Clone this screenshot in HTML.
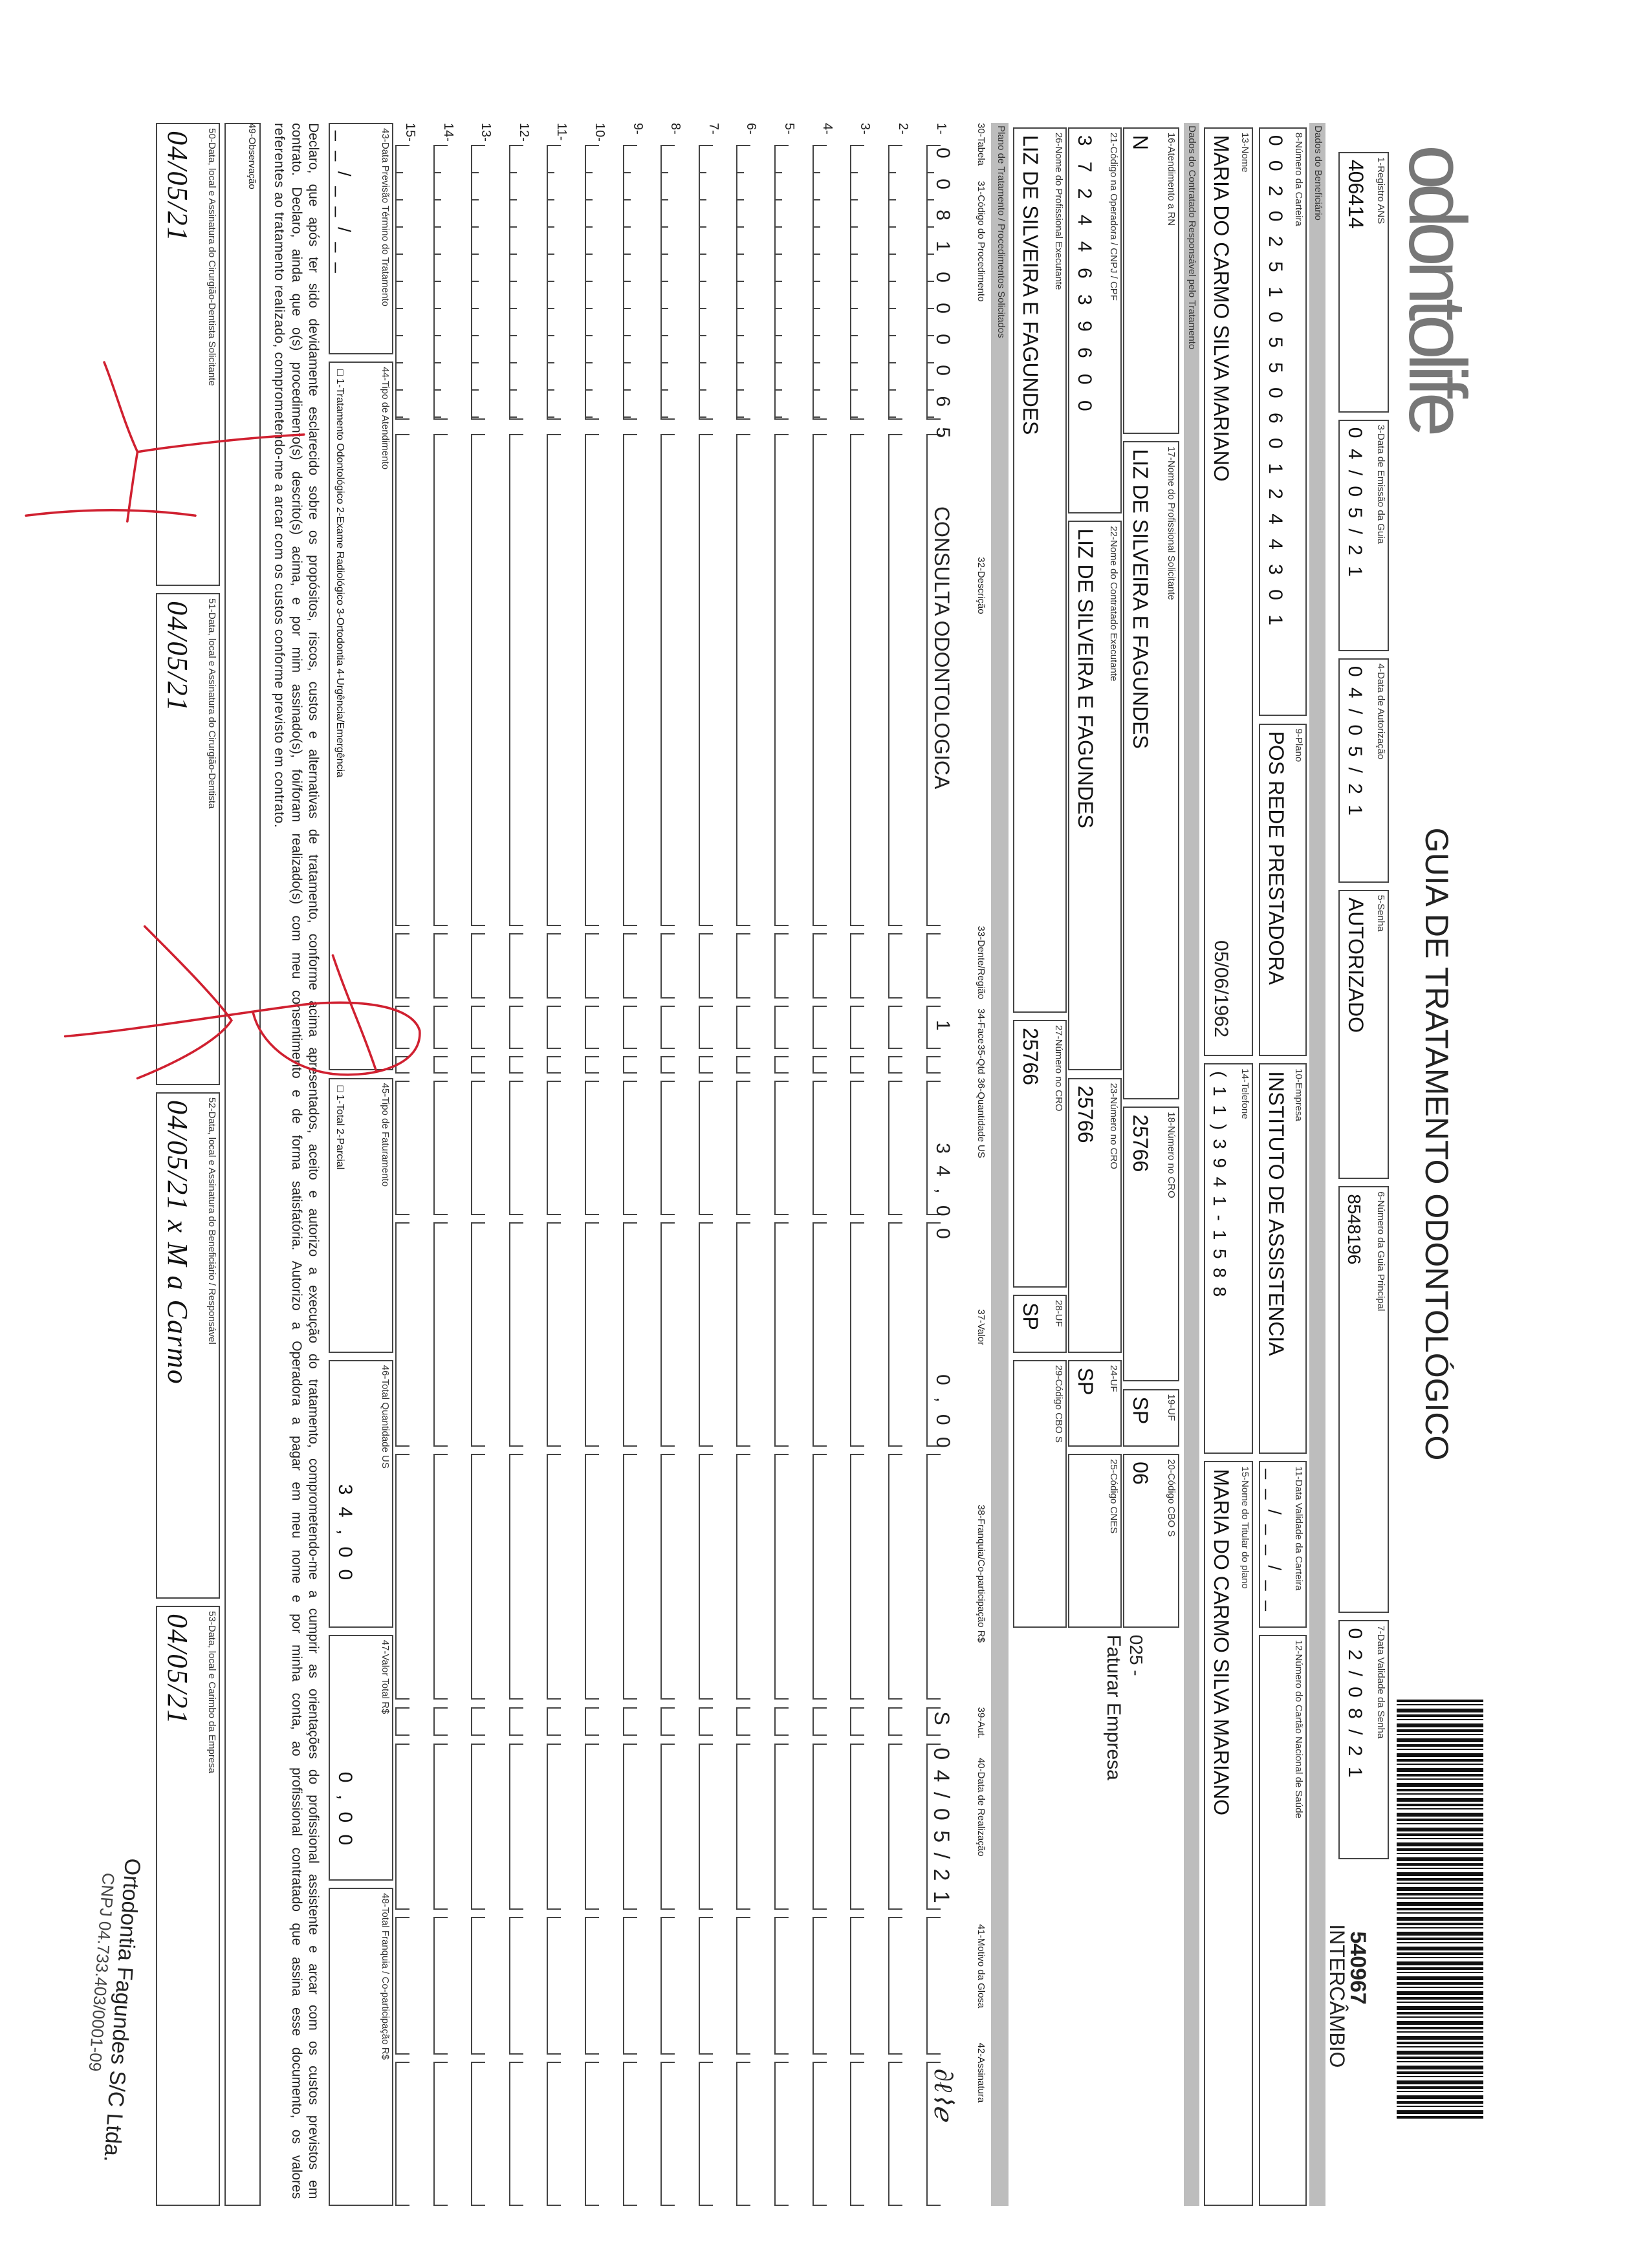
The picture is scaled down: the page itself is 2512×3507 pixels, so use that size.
<!DOCTYPE html>
<html><head><meta charset="utf-8">
<style>
html,body{margin:0;padding:0;background:#fff;}
body{width:2512px;height:3507px;position:relative;overflow:hidden;font-family:"Liberation Sans",sans-serif;color:#222;}
#f{position:absolute;left:2512px;top:0;width:3507px;height:2512px;transform-origin:0 0;transform:rotate(90deg);}
.b{position:absolute;border:2px solid #444;box-sizing:border-box;background:#fff;}
.l{position:absolute;left:6px;top:2px;font-size:15px;white-space:nowrap;color:#333;}
.v{position:absolute;left:10px;bottom:6px;font-size:32px;white-space:nowrap;color:#111;}
.bar{position:absolute;background:#bdbdbd;font-size:15px;white-space:nowrap;color:#333;padding-left:4px;box-sizing:border-box;line-height:24px;}
.t{position:absolute;white-space:nowrap;}
.s{position:absolute;border:2px solid #444;border-top:none;box-sizing:border-box;}
.code{background-image:repeating-linear-gradient(to right,transparent 0 40px,#444 40px 42px);background-size:100% 10px;background-position:0 100%;background-repeat:no-repeat;}
</style></head><body>
<div id="f"></div>
<svg style="position:absolute;left:0;top:0" width="2512" height="3507" viewBox="0 0 1123 1567">
<g fill="none" stroke="#d02030" stroke-width="1.6" stroke-linecap="round">
<path d="M18,356 C50,352 90,350 135,356"/>
<path d="M210,300 C170,302 120,308 95,312 C85,290 80,270 72,250"/>
<path d="M95,312 C92,330 90,345 88,360"/>
<path d="M45,716 C90,712 150,702 210,694 C250,690 285,695 290,712 C292,735 260,745 230,742 C200,738 180,720 175,700"/>
<path d="M100,640 C120,660 150,690 160,705 C150,720 120,735 95,745"/>
<path d="M230,660 C240,690 250,710 260,740"/>
</g>
</svg>
<script>
const k=2.237,F=document.getElementById('f');
function el(cls,st,html){const d=document.createElement('div');d.className=cls;Object.assign(d.style,st);if(html!==undefined)d.innerHTML=html;F.appendChild(d);return d;}
function R(x1,x2,y1,y2){return {left:(y1*k)+'px',top:((1123-x2)*k)+'px',width:((y2-y1)*k)+'px',height:((x2-x1)*k)+'px'};}
function box(x1,x2,y1,y2,lab,val,vs,ls){const d=el('b',R(x1,x2,y1,y2));const a=document.createElement('div');a.className='l';a.textContent=lab;d.appendChild(a);if(val){const v=document.createElement('div');v.className='v';v.textContent=val;if(vs)v.style.fontSize=vs+'px';if(ls)v.style.letterSpacing=ls+'px';d.appendChild(v);}return d;}
function bar(x1,x2,y1,y2,txt){el('bar',R(x1,x2,y1,y2),txt);}
function t(x,y,txt,sz,extra){const s={left:(y*k)+'px',top:((1123-x)*k)+'px',fontSize:sz+'px'};Object.assign(s,extra||{});return el('t',s,txt);}

// logo & header
t(1022,100,'odontolife',125,{color:'#777',letterSpacing:'-10px',fontWeight:'normal',lineHeight:'130px'});
t(958,115,'tranquilidade para você sorrir',14,{color:'#999'});
t(1006,572,'GUIA DE TRATAMENTO ODONTOLÓGICO',50,{color:'#222'});
t(988,1222,'2-Nº',14);
el('t',Object.assign(R(965,1025,1175,1465),{background:'repeating-linear-gradient(to right,#111 0 4px,#fff 4px 7px,#111 7px 9px,#fff 9px 14px,#111 14px 20px,#fff 20px 23px)'}));
t(947,1335,'540967',34,{fontWeight:'bold'});
t(932,1330,'INTERCÂMBIO',32);

box(925,960,105,285,'1-Registro ANS','406414');
box(925,960,290,450,'3-Data de Emissão da Guia','0 4 / 0 5 / 2 1',30,4);
box(925,960,455,610,'4-Data de Autorização','0 4 / 0 5 / 2 1',30,4);
box(925,960,615,815,'5-Senha','AUTORIZADO');
box(925,960,820,1115,'6-Número da Guia Principal','8548196',28);
box(925,960,1120,1285,'7-Data Validade da Senha','0 2 / 0 8 / 2 1',30,4);
bar(905,916,85,1525,'Dados do Beneficiário');
box(870,903,88,495,'8-Número da Carteira','0 0 2 0 2 5 1 0 5 5 0 6 0 1 2 4 4 3 0 1',30,7);
box(870,903,500,730,'9-Plano','POS REDE PRESTADORA');
box(870,903,735,1005,'10-Empresa','INSTITUTO DE ASSISTENCIA');
box(870,903,1010,1125,'11-Data Validade da Carteira','_ _ / _ _ / _ _',28,4);
box(870,903,1130,1525,'12-Número do Cartão Nacional de Saúde','');
box(832,866,88,730,'13-Nome','MARIA DO CARMO SILVA MARIANO');
t(851,650,'05/06/1962',30);
box(832,866,735,1005,'14-Telefone','( 1 1 ) 3 9 4 1 - 1 5 8 8',28,3);
box(832,866,1010,1525,'15-Nome do Titular do plano','MARIA DO CARMO SILVA MARIANO');
bar(818,829,85,1525,'Dados do Contratado Responsável pelo Tratamento');
box(776,815,88,300,'16-Atendimento a RN','N');
box(776,815,305,760,'17-Nome do Profissional Solicitante','LIZ DE SILVEIRA E FAGUNDES');
box(776,815,765,955,'18-Número no CRO','25766');
box(776,815,960,1000,'19-UF','SP');
box(776,815,1005,1125,'20-Código CBO S','06');
box(738,775,88,355,'21-Código na Operadora / CNPJ / CPF','3 7 2 4 4 6 3 9 6 0 0',30,8);
box(738,775,360,740,'22-Nome do Contratado Executante','LIZ DE SILVEIRA E FAGUNDES');
box(738,775,745,935,'23-Número no CRO','25766');
box(738,775,940,1000,'24-UF','SP');
box(738,775,1005,1125,'25-Código CNES','');
box(700,737,88,700,'26-Nome do Profissional Executante','LIZ DE SILVEIRA E FAGUNDES');
box(700,737,705,890,'27-Número no CRO','25766');
box(700,737,895,935,'28-UF','SP');
box(700,737,940,1125,'29-Código CBO S','');
t(792,1130,'025 -',28);
t(777,1130,'Faturar Empresa',30);
bar(685,697,85,1525,'Plano de Tratamento / Procedimentos Solicitados');
const H=[[85,'30-Tabela'],[125,'31-Código do Procedimento'],[385,'32-Descrição'],[640,'33-Dente/Região'],[697,'34-Face'],[722,'35-Qtd'],[745,'36-Quantidade US'],[905,'37-Valor'],[1040,'38-Franquia/Co-participação R$'],[1180,'39-Aut.'],[1215,'40-Data de Realização'],[1330,'41-Motivo da Glosa'],[1412,'42-Assinatura']];
H.forEach(h=>t(682,h[0],h[1],15));
const SEG=[[100,290,1],[300,640],[645,690],[695,725],[730,742],[747,840],[845,1000],[1005,1175],[1180,1200],[1205,1320],[1325,1420],[1425,1525]];
for(let i=1;i<=15;i++){
 const xl=640-(i-1)*26.2, fy=(1123-xl)*k;
 SEG.forEach(s=>{const d=el('s'+(s[2]?' s code':''),{left:(s[0]*k)+'px',top:(fy-22)+'px',width:((s[1]-s[0])*k)+'px',height:'22px'});if(s[2])d.className='s code';});
 el('t',{left:'190px',top:(fy-34)+'px',fontSize:'20px'},i+'-');
}
(function(){const fy=(1123-640)*k;const o=(y,txt,sz,ls)=>el('t',{left:(y*k)+'px',top:(fy-42)+'px',fontSize:(sz||30)+'px',letterSpacing:(ls||0)+'px'},txt);
 o(102,'0 0 8 1 0 0 0 0 6 5',30,11.5);o(350,'CONSULTA ODONTOLOGICA',32);o(705,'1');o(790,'3 4 , 0 0',30,5);o(950,'0 , 0 0',30,5);o(1183,'S',32);o(1208,'0 4 / 0 5 / 2 1',34,3);
 el('t',{left:(1430*k)+'px',top:(fy-50)+'px',fontSize:'40px',fontStyle:'italic',fontFamily:'"Liberation Serif",serif'},'∂ℓ⌇ℯ');})();
box(227,272,85,245,'43-Data Previsão Término do Tratamento','_ _ / _ _ / _ _',28,4);
box(227,272,250,740,'44-Tipo de Atendimento','□ 1-Tratamento Odontológico  2-Exame Radiológico  3-Ortodontia  4-Urgência/Emergência',16);
box(227,272,745,935,'45-Tipo de Faturamento','□ 1-Total  2-Parcial',16);
box(227,272,940,1125,'46-Total Quantidade US','3 4 , 0 0',30,5).querySelector('.v').style.left='190px';
box(227,272,1130,1300,'47-Valor Total R$','0 , 0 0',30,5).querySelector('.v').style.left='210px';
box(227,272,1305,1525,'48-Total Franquia / Co-participação R$','');
const DL=['Declaro, que após ter sido devidamente esclarecido sobre os propósitos, riscos, custos e alternativas de tratamento, conforme acima apresentados, aceito e autorizo a execução do tratamento, comprometendo-me a cumprir as orientações do profissional assistente e arcar com os custos previstos em',
'contrato. Declaro, ainda que o(s) procedimento(s) descrito(s) acima, e por mim assinado(s), foi/foram realizado(s) com meu consentimento e de forma satisfatória. Autorizo a Operadora a pagar em meu nome e por minha conta, ao profissional contratado que assina esse documento, os valores'];
DL.forEach((s,j)=>el('t',{left:(85*k)+'px',top:((1123-222+j*12)*k)+'px',width:((1520-85)*k)+'px',fontSize:'21px',textAlign:'justify',textAlignLast:'justify',whiteSpace:'normal'},s));
el('t',{left:(85*k)+'px',top:((1123-222+24)*k)+'px',fontSize:'21px',letterSpacing:'0.6px'},'referentes ao tratamento realizado, comprometendo-me a arcar com os custos conforme previsto em contrato.');
el('b',R(155,180,85,1525));
t(178,85,'49-Observação',15);
const sg=[[85,405,'50-Data, local e Assinatura do Cirurgião-Dentista Solicitante','04/05/21'],[410,750,'51-Data, local e Assinatura do Cirurgião-Dentista','04/05/21'],[755,1105,'52-Data, local e Assinatura do Beneficiário / Responsável','04/05/21 x M a Carmo'],[1110,1525,'53-Data, local e Carimbo da Empresa','04/05/21']];
sg.forEach(s=>{const d=box(108,152,s[0],s[1],s[2],s[3],44);const v=d.querySelector('.v');v.style.fontFamily='"Liberation Serif",serif';v.style.fontStyle='italic';v.style.letterSpacing='2px';});
el('t',{left:(1285*k)+'px',top:((1123-100)*k)+'px',fontSize:'34px',transform:'rotate(4deg)',transformOrigin:'0 0'},'Ortodontia Fagundes S/C Ltda.');
el('t',{left:(1295*k)+'px',top:((1123-82)*k)+'px',fontSize:'26px',transform:'rotate(4deg)',transformOrigin:'0 0',color:'#444'},'CNPJ 04.733.403/0001-09');
</script>
</body></html>
